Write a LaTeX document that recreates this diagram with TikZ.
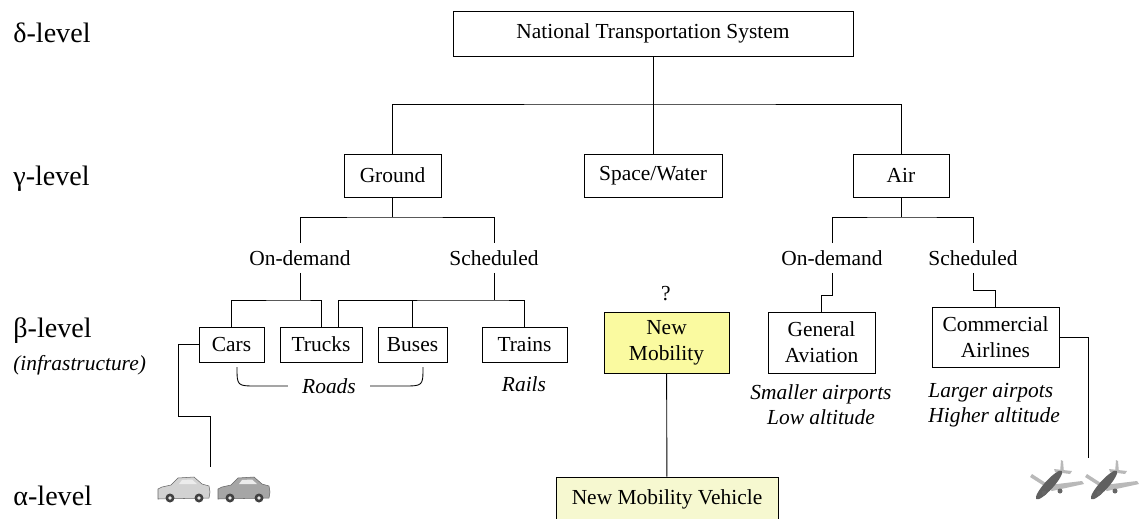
\documentclass[tikz,border=0pt]{standalone}
\usepackage{fontspec}
\setmainfont{Liberation Serif}

\definecolor{nmyellow}{RGB}{250,250,160}
\definecolor{nmvyellow}{RGB}{246,248,208}

\begin{document}
\begin{tikzpicture}[x=0.02cm, y=-0.02cm,
    box/.style={draw, line width=0.5pt, align=center, inner sep=0pt,
      font=\fontsize{12.2}{14.7}\selectfont},
    lbl/.style={inner sep=4pt, font=\fontsize{12.2}{14.7}\selectfont},
    note/.style={inner sep=0pt, align=center, font=\fontsize{12.2}{14.4}\selectfont\itshape},
    lvl/.style={anchor=base west, inner sep=0pt, font=\fontsize{16}{18}\selectfont},
    link/.style={line width=0.5pt}]

  \useasboundingbox (0,0) rectangle (1143,518);
  \clip (0,0) rectangle (1143,518);

  % level names
  \node[lvl] (dl) at (13,42) {δ-level};
  \node[lvl] (gl) at (13,185) {γ-level};
  \node[lvl] (bl) at (13,337) {β-level};
  \node[lvl, font=\fontsize{12.2}{14}\selectfont\itshape] (il) at (13,370) {(infrastructure)};
  \node[lvl] (al) at (13,505) {α-level};

  % delta and gamma
  \node[box, minimum width=8cm, minimum height=0.9cm] (nts) at (653,33.5) {National Transportation System};
  \node[box, minimum width=1.94cm, minimum height=0.86cm] (ground) at (392.5,175.5) {Ground};
  \node[box, minimum width=2.76cm, minimum height=0.86cm] (space) at (653,175.5) {Space/Water};
  \node[box, minimum width=1.92cm, minimum height=0.86cm] (air) at (901,175.5) {Air};

  \node[lbl] (odg) at (300,258) {On-demand};
  \node[lbl] (schg) at (494,258) {Scheduled};
  \node[lbl] (oda) at (832,258) {On-demand};
  \node[lbl] (scha) at (973,258) {Scheduled};

  % beta
  \node[box, minimum width=1.3cm, minimum height=0.7cm] (cars) at (231.5,344.5) {Cars};
  \node[box, minimum width=1.64cm, minimum height=0.7cm] (trucks) at (321,344.5) {Trucks};
  \node[box, minimum width=1.38cm, minimum height=0.7cm] (buses) at (412.5,344.5) {Buses};
  \node[box, minimum width=1.7cm, minimum height=0.7cm] (trains) at (524.5,344.5) {Trains};
  \node[box, fill=nmyellow, minimum width=2.5cm, minimum height=1.22cm] (newmob) at (666.5,342.5) {New\\Mobility};
  \node[box, minimum width=2.14cm, minimum height=1.22cm] (ga) at (821.5,342.5) {General\\Aviation};
  \node[box, minimum width=2.54cm, minimum height=1.2cm] (ca) at (995.5,337) {Commercial\\Airlines};

  \node[lbl, inner sep=0pt] (qm) at (666,294) {?};
  \node[note, inner xsep=8pt] (roads) at (329,386) {Roads};
  \node[note] (rails) at (524,384) {Rails};
  \node[note] (small) at (821,405) {Smaller airports\\Low altitude};
  \node[note, anchor=west, align=left] (large) at (928,405) {Larger airpots\\Higher altitude};

  % alpha
  \node[box, fill=nmvyellow, minimum width=4.44cm, minimum height=0.88cm] (nmv) at (667,499) {New Mobility Vehicle};

  % tree lines
  \coordinate (j1) at (653,104);
  \coordinate (j2) at (392.5,217);
  \coordinate (j3) at (300,300);
  \coordinate (j4) at (494,300);
  \coordinate (j5) at (901,217);
  \coordinate (j6) at (821.5,295);
  \coordinate (j7) at (995.5,290);
  \coordinate (c1) at (178,416);
  \coordinate (cartop) at (210,467);
  \coordinate (planetop) at (1088,458);

  \draw[link] (nts) -- (j1);
  \draw[link] (ground.north) |- (j1) -| (air.north);
  \draw[link] (j1) -- (space);

  \draw[link] (ground) -- (j2);
  \draw[link] (odg) |- (j2) -| (schg);
  \draw[link] (odg) -- (j3);
  \draw[link] (cars) |- (j3) -| (trucks);
  \draw[link] (schg) -- (j4);
  \draw[link] ([xshift=0.34cm]trucks.north) |- (j4) -| (trains);
  \draw[link] (buses) -- (buses |- j4);

  \draw[link] (air) -- (j5);
  \draw[link] (oda) |- (j5) -| (scha);
  \draw[link] (oda) |- (j6) -- (ga);
  \draw[link] (scha) |- (j7) -- (ca);

  \draw[link] (newmob) -- (nmv);
  \draw[link] (cars.west) -| (c1) -| (cartop);
  \draw[link] (ca.east) -| (planetop);

  % roads brace
  \draw[link]
    (237,367) .. controls (237,386) .. (257,386) -- (roads.west)
    (roads.east) -- (403,386) .. controls (423,386) .. (423,367)
    ;

  % cars
  \foreach \cx/\cc in {158/gray!35, 218/gray!70} {
    \begin{scope}[shift={(\cx,476)}]
      \filldraw[fill=\cc, draw=gray!80!black, line width=0.3pt]
        (0,23) -- (0,13) -- (4,11) -- (13,9) -- (20,2) -- (36,1) -- (44,8) -- (51,10) -- (52,16) -- (51,22) -- cycle;
      \fill[gray!15] (21,8) -- (24,4) -- (34,3.5) -- (39,8) -- cycle;
      \fill[black!75] (12,22) circle (4.5) (41,22) circle (4.5);
      \fill[gray!20] (12,22) circle (1.8) (41,22) circle (1.8);
    \end{scope}
  }

  % planes
  \foreach \px in {1030,1085} {
    \begin{scope}[shift={(\px,460)}]
      \fill[gray!55] (2,14) -- (19,25) -- (52,21) -- (54,24) -- (22,31) -- (0,17) -- cycle;
      \fill[gray!55] (31,0) -- (33,1) -- (34,13) -- (30,13) -- cycle
        (24,9) -- (42,11) -- (40,14) -- (25,12) -- cycle;
      \fill[gray!75!black, rotate around={48:(19,25)}] (19,25) ellipse (19 and 4.5);
      \fill[black!60] (14,33) circle (2.5) (30,31) circle (2.5);
    \end{scope}
  }

\end{tikzpicture}
\end{document}
